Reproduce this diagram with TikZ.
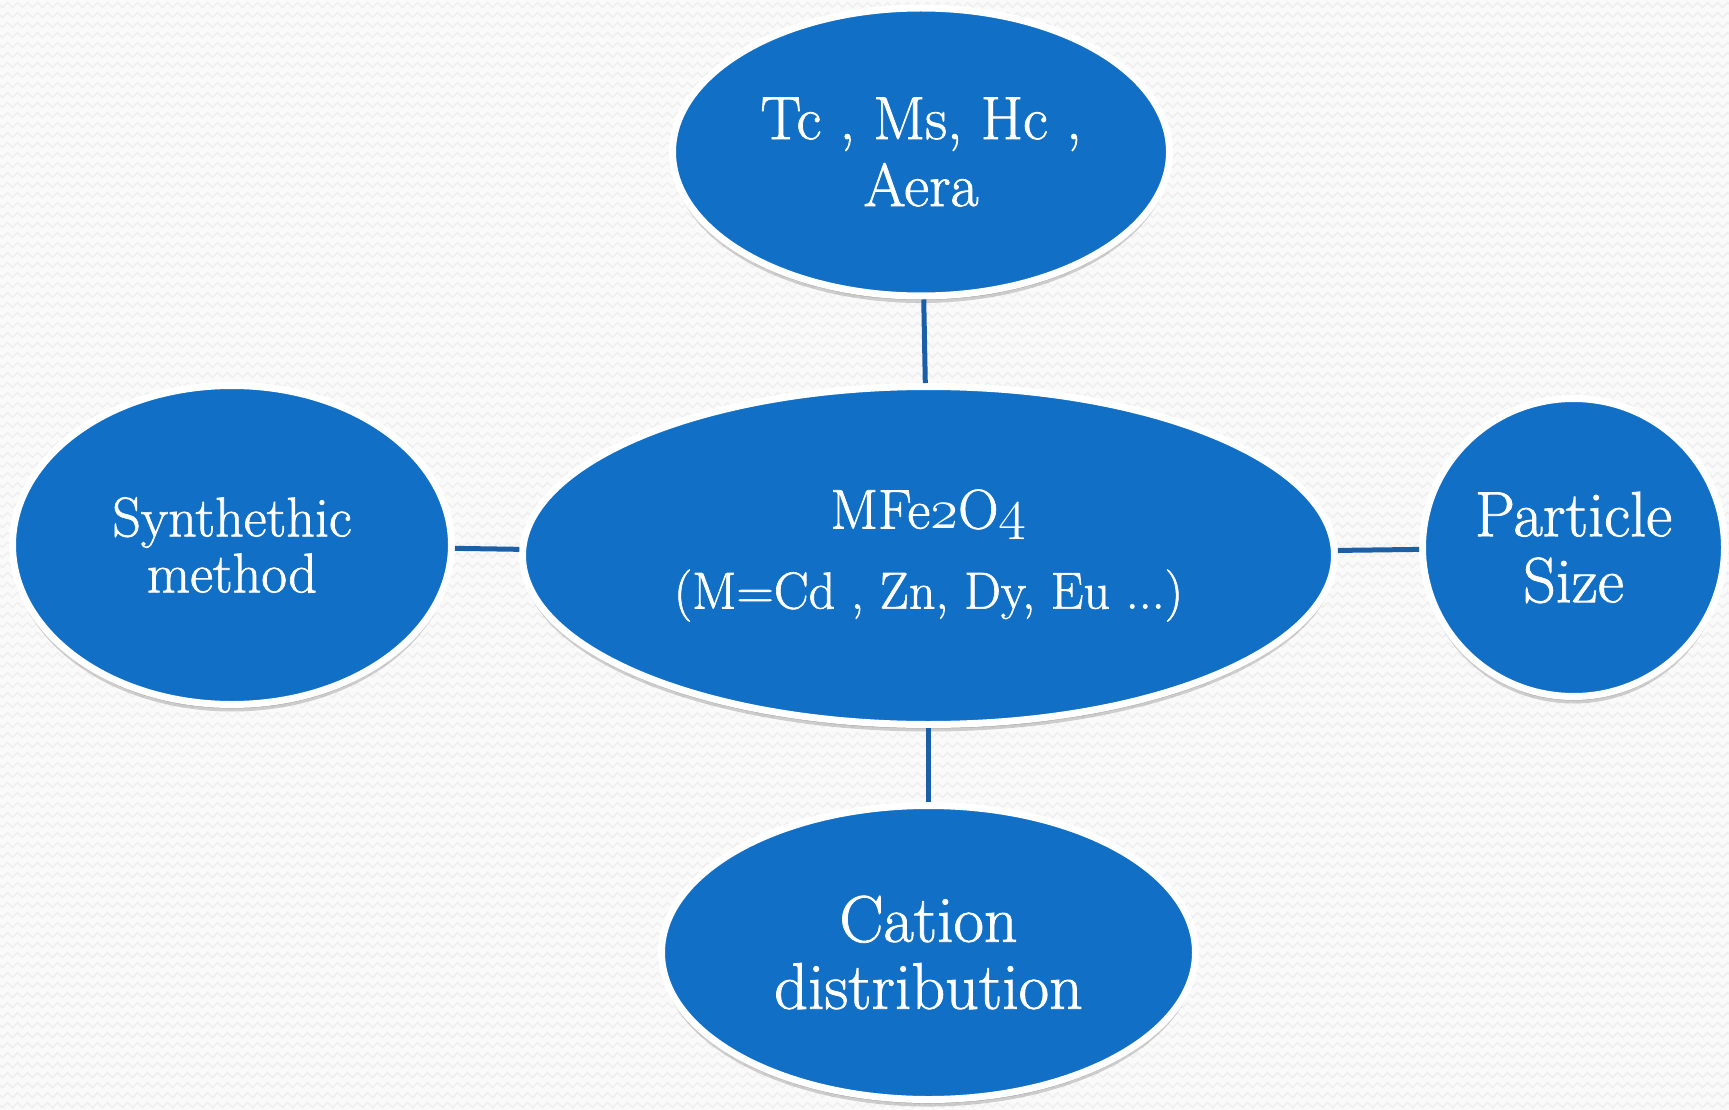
\documentclass[tikz,border=0pt]{standalone}
\usepackage{fontspec}
\usepackage{graphicx}
\setmainfont{Latin Modern Roman}[FakeBold=1.2]
\usetikzlibrary{shapes.geometric,shadows,decorations.pathmorphing}
\definecolor{nodeblue}{HTML}{1170C6}
\definecolor{connblue}{HTML}{1B5FA6}
\definecolor{bgcol}{HTML}{FAFAFA}
\definecolor{zigcol}{HTML}{EEEEEE}
\newcommand{\osn}[1]{\scalebox{2.3}{\fontsize{24.88}{25}\usefont{OML}{cmm}{m}{it}#1}}
\tikzset{
  bub/.style={ellipse, fill=nodeblue, draw=white, line width=7pt, text=white,
    align=center, inner sep=0pt,
    drop shadow={shadow xshift=0pt, shadow yshift=-7pt, opacity=.25, fill=black!70},
    drop shadow={shadow xshift=0pt, shadow yshift=-4pt, opacity=.3, fill=black!70}},
  conn/.style={draw=connblue, line width=5pt},
  zig/.style={draw=zigcol, line width=1.4pt, decorate,
    decoration={zigzag, segment length=10pt, amplitude=2.5pt}},
}
\begin{document}
\begin{tikzpicture}[x=1pt,y=-1pt]
\useasboundingbox (0,0) rectangle (1729,1110);
\fill[bgcol] (0,0) rectangle (1729,1110);
\foreach \r in {5,15,...,1105} {
  \draw[zig] (-5,\r) -- (1735,\r);
}
\node[bub, font=\fontsize{61}{67}\selectfont, minimum width=497pt, minimum height=288pt] (top) at (921,152)
  {Tc , Ms, Hc ,\\Aera};
\node[bub, minimum width=812pt, minimum height=338pt,
  font=\fontsize{52}{80}\selectfont] (center) at (928.5,555.5)
  {{\fontsize{56}{56}\selectfont MFe\osn{2}O\osn{4}}\\(M=Cd , Zn, Dy, Eu ...)};
\node[bub, font=\fontsize{56}{56}\selectfont, minimum width=439pt, minimum height=319pt] (left) at (232,545)
  {Synthethic\\method};
\node[bub, font=\fontsize{64}{66}\selectfont, minimum width=302pt, minimum height=298pt] (right) at (1573.5,547.5)
  {Particle\\Size};
\node[bub, font=\fontsize{66}{67}\selectfont, minimum width=534pt, minimum height=294pt] (bottom) at (928.5,952.5)
  {Cation\\distribution};
\draw[conn] (top) -- (center);
\draw[conn] (left) -- (center);
\draw[conn] (center) -- (right);
\draw[conn] (center) -- (bottom);
\end{tikzpicture}
\end{document}
